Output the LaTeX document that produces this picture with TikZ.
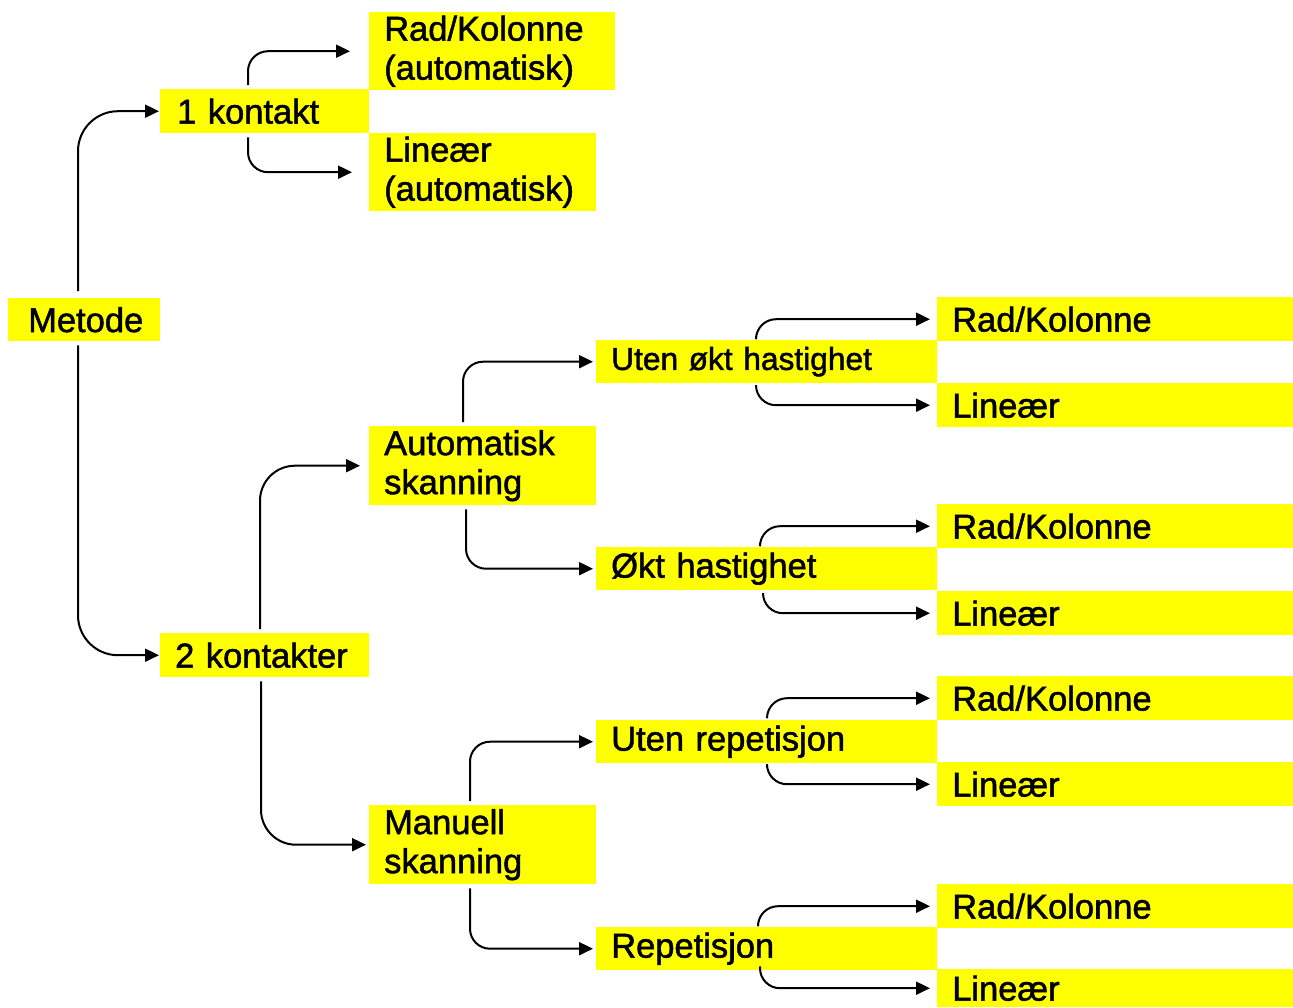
\documentclass[tikz,border=0pt]{standalone}
\usepackage{fontspec}
\setmainfont{Liberation Sans}
\newfontfamily\boxfont[FakeBold=1.5]{Liberation Sans}
\usepackage{xcolor}
\usetikzlibrary{arrows.meta}
\definecolor{boxyellow}{RGB}{255,255,0}
\tikzstyle{box}=[fill=boxyellow,anchor=north west,inner xsep=15pt,inner ysep=0pt,align=left,font=\boxfont\fontsize{34.5}{39}\selectfont]
\tikzstyle{wide}=[box,text width=311pt,minimum height=43pt]
\tikzstyle{outer}=[box,text width=326pt,minimum height=44pt]
\tikzstyle{conn}=[line width=2pt,-{Triangle[length=14pt,width=13pt]},rounded corners=20pt,shorten <=4pt,shorten >=3pt]
\begin{document}
\begin{tikzpicture}[x=1pt,y=-1pt]
	\useasboundingbox (0,0) rectangle (1293,1007);
	% left part
	\node[box,inner xsep=20pt,text width=112pt,minimum height=43pt] (metode) at (8,298) {Metode};
	\node[box,inner xsep=17pt,text width=175pt,minimum height=44pt] (kon1) at (160,89) {1 kontakt};
	\node[box,inner xsep=15pt,text width=179pt,minimum height=44pt] (kon2) at (160,633) {2 kontakter};
	\node[box,text width=216pt,minimum height=78pt] (rka) at (369,12) {Rad/Kolonne\\(automatisk)};
	\node[box,text width=197pt,minimum height=78pt] (lina) at (369,133) {Lineær\\(automatisk)};
	\node[box,text width=197pt,minimum height=79pt] (autos) at (369,426) {Automatisk\\skanning};
	\node[box,text width=197pt,minimum height=79pt] (mans) at (369,805) {Manuell\\skanning};
	% middle column
	\node[wide,font=\boxfont\fontsize{31.7}{36}\selectfont] (uok) at (596,340) {Uten økt hastighet};
	\node[wide] (ok) at (596,547) {Økt hastighet};
	\node[wide] (urep) at (596,720) {Uten repetisjon};
	\node[wide] (rep) at (596,927) {Repetisjon};
	% right column
	\node[outer] (rk1) at (937,297) {Rad/Kolonne};
	\node[outer] (lin1) at (937,383) {Lineær};
	\node[outer] (rk2) at (937,504) {Rad/Kolonne};
	\node[outer] (lin2) at (937,591) {Lineær};
	\node[outer] (rk3) at (937,676) {Rad/Kolonne};
	\node[outer] (lin3) at (937,762) {Lineær};
	\node[outer] (rk4) at (937,884) {Rad/Kolonne};
	\node[outer,minimum height=38pt] (lin4) at (937,969) {Lineær};

	\draw[conn,rounded corners=40pt,shorten <=7pt,shorten >=1pt] ([xshift=70pt]metode.north west) |- (kon1);
	\draw[conn,rounded corners=40pt,shorten >=1pt] ([xshift=70pt]metode.south west) |- (kon2);
	\draw[conn,shorten >=19pt] ([xshift=88pt]kon1.north west) |- (rka);
	\draw[conn,shorten >=17pt] ([xshift=88pt]kon1.south west) |- (lina);
	\draw[conn,rounded corners=35pt,shorten >=9pt] ([xshift=100pt]kon2.north west) |- (autos);
	\draw[conn,rounded corners=35pt] ([xshift=101pt]kon2.south west) |- (mans);
	\draw[conn] ([xshift=94pt]autos.north west) |- (uok);
	\draw[conn] ([xshift=97pt]autos.south west) |- (ok);
	\draw[conn] ([xshift=101pt]mans.north west) |- (urep);
	\draw[conn] ([xshift=101pt]mans.south west) |- (rep);
	\draw[conn,shorten >=7pt] ([xshift=160pt]uok.north west) |- (rk1);
	\draw[conn,shorten >=7pt] ([xshift=160pt]uok.south west) |- (lin1);
	\draw[conn,shorten >=7pt] ([xshift=164pt]ok.north west) |- (rk2);
	\draw[conn,shorten >=7pt] ([xshift=167pt]ok.south west) |- (lin2);
	\draw[conn,shorten >=7pt] ([xshift=171pt]urep.north west) |- (rk3);
	\draw[conn,shorten >=7pt] ([xshift=171pt]urep.south west) |- (lin3);
	\draw[conn,shorten >=7pt] ([xshift=162pt]rep.north west) |- (rk4);
	\draw[conn,shorten >=7pt] ([xshift=164pt]rep.south west) |- (lin4);
\end{tikzpicture}
\end{document}
